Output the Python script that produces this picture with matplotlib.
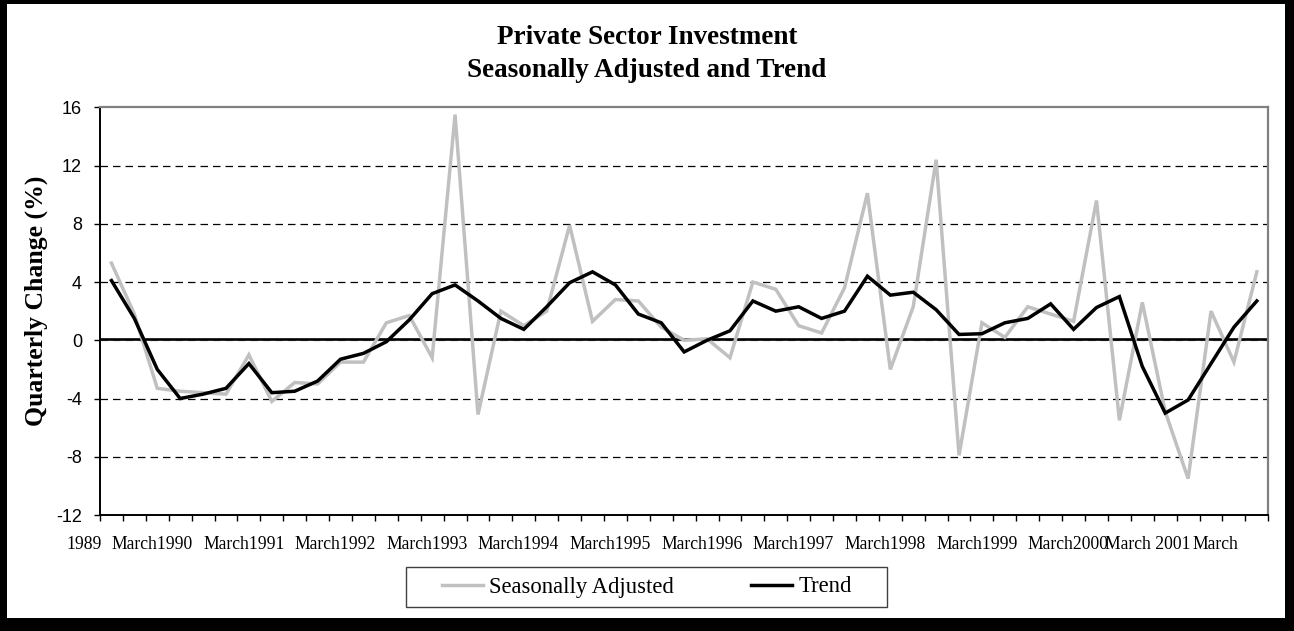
import matplotlib
matplotlib.use("Agg")
import matplotlib.pyplot as plt
from matplotlib.patches import Rectangle
from matplotlib.lines import Line2D
import matplotlib.transforms as mtransforms

# ---------------- data ----------------
seasonally_adjusted = [
    5.3, 1.8, -3.3, -3.5, -3.6, -3.7, -1.0, -4.2, -2.9, -3.0,
    -1.5, -1.5, 1.2, 1.7, -1.2, 15.5, -5.1, 2.0, 1.0, 2.0,
    7.9, 1.3, 2.8, 2.7, 0.9, 0.0, 0.1, -1.2, 4.0, 3.5,
    1.0, 0.5, 3.6, 10.1, -2.0, 2.3, 12.4, -7.9, 1.2, 0.2,
    2.3, 1.8, 1.3, 9.6, -5.5, 2.6, -4.9, -9.5, 2.0, -1.5,
    4.7,
]
trend = [
    4.1, 1.5, -2.0, -4.0, -3.7, -3.3, -1.6, -3.6, -3.5, -2.8,
    -1.3, -0.9, -0.1, 1.4, 3.2, 3.8, 2.7, 1.5, 0.75, 2.3,
    3.95, 4.7, 3.8, 1.8, 1.2, -0.8, 0.0, 0.65, 2.7, 2.0,
    2.3, 1.5, 2.0, 4.4, 3.1, 3.3, 2.1, 0.4, 0.45, 1.2,
    1.5, 2.5, 0.75, 2.25, 3.0, -1.8, -5.0, -4.1, -1.6, 0.9,
    2.7,
]
x_labels = ["1989", "March1990", "March1991", "March1992", "March1993",
            "March1994", "March1995", "March1996", "March1997", "March1998",
            "March1999", "March2000", "March 2001", "March"]
y_ticks = [-12, -8, -4, 0, 4, 8, 12, 16]
series_names = ["Seasonally Adjusted", "Trend"]
title_lines = ["Private Sector Investment", "Seasonally Adjusted and Trend"]
y_label = "Quarterly Change (%)"

# ---------------- layout ----------------
W, H = 1294, 631
fig = plt.figure(figsize=(W / 100, H / 100), dpi=100)
fig.patch.set_facecolor("white")

def fx(px):
    return px / W

def fy(py):
    return 1 - py / H

ax_left, ax_right, ax_top, ax_bottom = 100, 1268.3, 107.3, 515.0
ax = fig.add_axes([fx(ax_left), fy(ax_bottom), fx(ax_right - ax_left),
                   (ax_bottom - ax_top) / H])

n = len(trend)
idx = list(range(n))

serif = ["Liberation Serif", "DejaVu Serif"]
sans = ["Liberation Sans", "DejaVu Sans"]

# gridlines
for yv in y_ticks[1:-1]:
    if yv == 0:
        continue
    ax.axhline(yv, color="black", lw=0.9, ls=(0, (6, 4)), zorder=1)
ax.axhline(0, color="#8c8c8c", lw=0.9, ls=(0, (6, 4)), zorder=1)
ax.axhline(0.12, color="black", lw=1.9, zorder=2)

ax.plot(idx, seasonally_adjusted, color="#c0c0c0", lw=2.5, zorder=3,
        solid_joinstyle="miter", label=series_names[0])
ax.plot(idx, trend, color="black", lw=2.5, zorder=4,
        solid_joinstyle="miter", label=series_names[1])

ax.set_xlim(-0.5, n - 0.5)
ax.set_ylim(-12, 16)
ax.set_yticks(y_ticks)
ax.set_yticklabels([str(v) for v in y_ticks], fontfamily=sans, fontsize=13)
ax.set_xticks([i - 0.5 for i in range(n + 1)])
ax.set_xticklabels([])
ax.tick_params(axis="y", direction="out", length=4.5, width=1, pad=8.5)
ax.tick_params(axis="x", direction="out", length=4.5, width=1)

for side in ["top", "right"]:
    ax.spines[side].set_color("#808080")
    ax.spines[side].set_linewidth(1.6)
for side in ["left", "bottom"]:
    ax.spines[side].set_color("black")
    ax.spines[side].set_linewidth(1.4)

# x category labels (left aligned, category coordinates)
label_starts = [-1.95] + [4 * k for k in range(11)] + [43.37, 47.2]
trans = mtransforms.blended_transform_factory(ax.transData, ax.transAxes)
for s, xs in zip(x_labels, label_starts):
    ax.text(xs, -0.084, s, transform=trans, ha="left", va="baseline",
            fontfamily=serif, fontsize=12.7, clip_on=False)

# titles
fig.text(0.5, fy(44), title_lines[0], ha="center", va="baseline",
         fontfamily=serif, fontweight="bold", fontsize=19.5)
fig.text(0.5, fy(77), title_lines[1], ha="center", va="baseline",
         fontfamily=serif, fontweight="bold", fontsize=19.5)
fig.text(fx(36), fy(301), y_label, rotation=90, ha="center", va="center",
         fontfamily=serif, fontweight="bold", fontsize=18.5)

# legend
fig.patches.append(Rectangle((fx(405.7), fy(606.7)), fx(886.7 - 405.7),
                             (606.7 - 567.3) / H, transform=fig.transFigure,
                             facecolor="white", edgecolor="#404040", lw=1.0))
handles = [Line2D([], [], color="#c0c0c0", lw=2.5),
           Line2D([], [], color="black", lw=2.5)]
fig.legend(handles, series_names, loc="center", bbox_to_anchor=(fx(647), fy(587)),
           ncol=2, frameon=False, prop={"family": serif, "size": 16.3},
           handlelength=1.8, handletextpad=0.3, columnspacing=3.4)

# outer black frame
for (x0, y0, x1, y1) in [(0, 0, 7, H), (0, 0, W, 4), (1285, 0, W, H), (0, 618, W, H)]:
    fig.patches.append(Rectangle((fx(x0), fy(y1)), fx(x1 - x0), (y1 - y0) / H,
                                 transform=fig.transFigure, facecolor="black",
                                 edgecolor="none"))

fig.savefig("out.png", dpi=100)
